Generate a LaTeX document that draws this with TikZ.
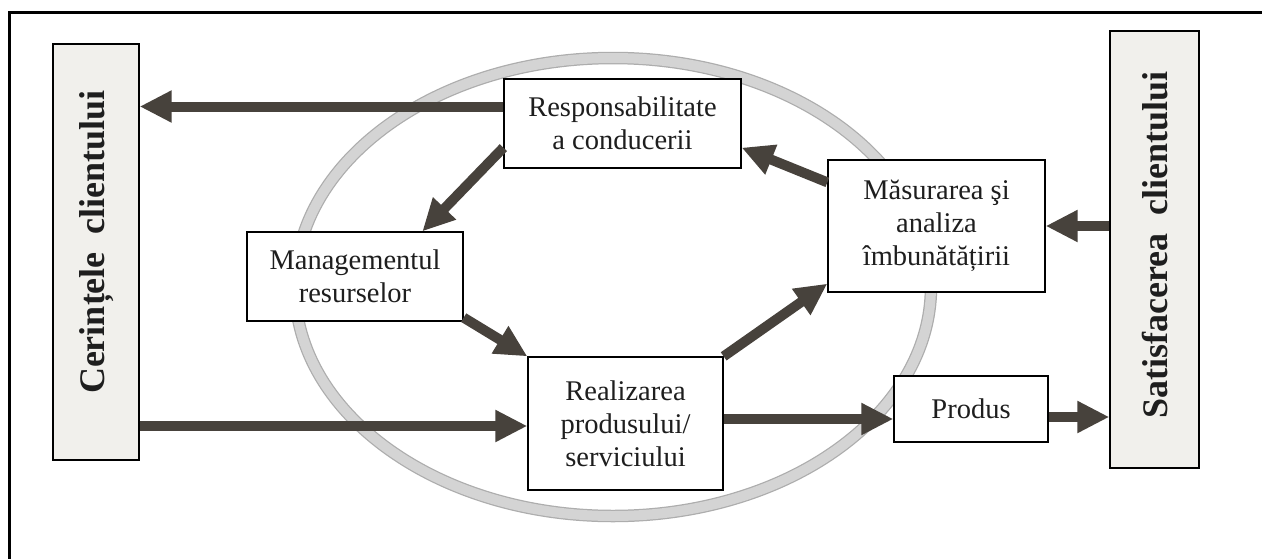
\documentclass[tikz,border=0pt]{standalone}
\usepackage{fontspec}
\setmainfont{Liberation Serif}
\usetikzlibrary{arrows.meta}

\definecolor{ink}{HTML}{1E1E1E}
\definecolor{arrowink}{HTML}{47423C}
\definecolor{ringedge}{HTML}{ADADAD}
\definecolor{ringfill}{HTML}{D4D4D4}
\definecolor{sidefill}{HTML}{F1F0EC}

\begin{document}
\begin{tikzpicture}[x=1pt,y=-1pt,
  box/.style={draw=black, line width=1.3pt, fill=white, align=center,
    inner sep=0pt, text=ink, font=\fontsize{28.5}{33}\selectfont},
  sidebox/.style={draw=black, line width=1.3pt, fill=sidefill, inner sep=0pt},
  sidetext/.style={rotate=90, inner sep=0pt, text=ink,
    font=\fontsize{36}{40}\selectfont\bfseries},
  flow/.style={draw=arrowink, line width=10pt,
    -{Triangle[length=32pt,width=30pt]}}]

\useasboundingbox (0,0) rectangle (1262,558);
\fill[white] (-2,-2) rectangle (1264,560);

% outer frame: only its top and left sides fall inside the page
\begin{scope}
  \clip (0,0) rectangle (1262,558);
  \draw[line width=3pt] (1264,12.5) -- (9.5,12.5) -- (9.5,560);
\end{scope}

% the process ring
\draw[ringedge, line width=12.5pt] (613,287) ellipse [x radius=318pt, y radius=229pt];
\draw[ringfill, line width=10pt] (613,287) ellipse [x radius=318pt, y radius=229pt];

% customer columns
\node[sidebox, minimum width=86pt, minimum height=416pt] (cer) at (96,252) {};
\node[sidetext] (certxt) at (97,242) {Cerințele\ \ clientului};
\node[sidebox, minimum width=89pt, minimum height=437pt] (sat) at (1154.5,249.5) {};
\node[sidetext] (sattxt) at (1155,245) {Satisfacerea\ \ clientului};

% process boxes
\node[box, minimum width=237pt, minimum height=89pt] (resp) at (622.5,123.5)
  {Responsabilitate\\a conducerii};
\node[box, minimum width=216pt, minimum height=89pt] (mgmt) at (355,276.5)
  {Managementul\\resurselor};
\node[box, minimum width=195pt, minimum height=133pt] (real) at (625.5,423.5)
  {Realizarea\\produsului/\\serviciului};
\node[box, minimum width=217pt, minimum height=132pt] (mas) at (936.5,226)
  {Măsurarea şi\\analiza\\îmbunătățirii};
\node[box, minimum width=154pt, minimum height=66pt] (prod) at (971,409)
  {Produs};

% connector end points on the boxes
\coordinate (r1) at ([yshift=17pt]resp.west);
\coordinate (r2) at ([yshift=21pt]resp.south west);
\coordinate (m1) at ([xshift=176pt]mgmt.north west);
\coordinate (m2) at ([yshift=4pt]mgmt.south east);
\coordinate (s1) at ([yshift=9pt]mas.south west);
\coordinate (s2) at ([yshift=-23pt]mas.north west);
\coordinate (r3) at ([yshift=21pt]resp.south east);
\coordinate (rl) at ([yshift=-2.5pt]real.west);
\coordinate (pl) at ([yshift=-10pt]prod.west);
\coordinate (pr) at ([yshift=-8pt]prod.east);

% flows
\draw[flow] (r1) -- (r1 -| cer.east);
\draw[flow] (r2) -- (m1);
\draw[flow] (m2) -- (real.north west);
\draw[flow] (real.north east) -- (s1);
\draw[flow] (s2) -- (r3);
\draw[flow] (mas.east -| sat.west) -- (mas.east);
\draw[flow] (rl -| cer.east) -- (rl);
\draw[flow] (pl -| real.east) -- (pl);
\draw[flow] (pr) -- (pr -| sat.west);

\end{tikzpicture}
\end{document}
